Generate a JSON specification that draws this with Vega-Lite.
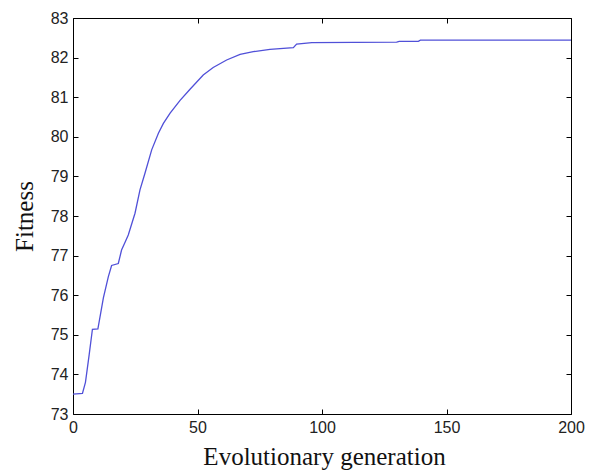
{
  "$schema": "https://vega.github.io/schema/vega-lite/v6.json",
  "width": 498,
  "height": 396,
  "autosize": {"type": "none"},
  "padding": {"left": 73, "top": 18, "right": 21, "bottom": 57},
  "background": "white",
  "config": {"view": {"stroke": null}},
  "data": {
    "values": [
      {"gen": 0, "fitness": 73.5},
      {"gen": 3.8, "fitness": 73.52},
      {"gen": 5, "fitness": 73.8},
      {"gen": 6.5, "fitness": 74.5},
      {"gen": 7.8, "fitness": 75.14},
      {"gen": 10, "fitness": 75.15},
      {"gen": 12.2, "fitness": 75.93},
      {"gen": 14.2, "fitness": 76.47},
      {"gen": 15.5, "fitness": 76.75},
      {"gen": 18.2, "fitness": 76.8},
      {"gen": 19.5, "fitness": 77.14},
      {"gen": 21, "fitness": 77.35},
      {"gen": 22.2, "fitness": 77.52},
      {"gen": 24.9, "fitness": 78.07},
      {"gen": 26.9, "fitness": 78.66},
      {"gen": 28.9, "fitness": 79.08},
      {"gen": 31.6, "fitness": 79.67},
      {"gen": 34.3, "fitness": 80.09},
      {"gen": 36.3, "fitness": 80.34},
      {"gen": 39, "fitness": 80.6},
      {"gen": 43, "fitness": 80.92},
      {"gen": 47, "fitness": 81.2},
      {"gen": 52.3, "fitness": 81.56},
      {"gen": 56.3, "fitness": 81.75},
      {"gen": 61.7, "fitness": 81.94},
      {"gen": 67.1, "fitness": 82.08},
      {"gen": 72.4, "fitness": 82.15},
      {"gen": 79.1, "fitness": 82.21},
      {"gen": 88.5, "fitness": 82.25},
      {"gen": 89.8, "fitness": 82.34},
      {"gen": 95.9, "fitness": 82.38},
      {"gen": 130, "fitness": 82.39},
      {"gen": 131, "fitness": 82.41},
      {"gen": 138.7, "fitness": 82.41},
      {"gen": 139.5, "fitness": 82.44},
      {"gen": 200, "fitness": 82.44}
    ]
  },
  "layer": [
    {
      "mark": {"type": "line", "color": "#5050d8", "strokeWidth": 1.3},
      "encoding": {
        "x": {
          "field": "gen", "type": "quantitative",
          "scale": {"domain": [0, 200], "nice": false, "zero": false},
          "axis": {
            "orient": "bottom", "values": [0, 50, 100, 150, 200], "grid": false,
            "title": "Evolutionary generation",
            "titleFont": "Liberation Serif", "titleFontSize": 25, "titleFontWeight": "normal",
            "titleColor": "#111", "titleX": 251, "titleY": 50, "titleBaseline": "alphabetic", "titleAlign": "center",
            "labelFont": "Liberation Sans", "labelFontSize": 16, "labelColor": "#222",
            "labelPadding": 10, "tickSize": -5, "tickColor": "black",
            "domainColor": "black", "labelFlush": false
          }
        },
        "y": {
          "field": "fitness", "type": "quantitative",
          "scale": {"domain": [73, 83], "nice": false, "zero": false},
          "axis": {
            "orient": "left", "values": [73, 74, 75, 76, 77, 78, 79, 80, 81, 82, 83], "grid": false,
            "title": "Fitness",
            "titleFont": "Liberation Serif", "titleFontSize": 25, "titleFontWeight": "normal",
            "titleColor": "#111", "titleX": -41, "titleY": 198, "titleAngle": -90,
            "titleBaseline": "alphabetic", "titleAlign": "center",
            "labelFont": "Liberation Sans", "labelFontSize": 16, "labelColor": "#222",
            "labelPadding": 10, "tickSize": -5, "tickColor": "black",
            "domainColor": "black", "labelFlush": false
          }
        }
      }
    },
    {
      "mark": {"type": "line", "strokeOpacity": 0},
      "encoding": {
        "x": {
          "field": "gen", "type": "quantitative",
          "scale": {"domain": [0, 200], "nice": false, "zero": false},
          "axis": {"orient": "top", "values": [0, 50, 100, 150, 200], "grid": false, "title": null, "labels": false, "tickSize": -5, "tickColor": "black", "domainColor": "black"}
        },
        "y": {
          "field": "fitness", "type": "quantitative",
          "scale": {"domain": [73, 83], "nice": false, "zero": false},
          "axis": {"orient": "right", "values": [73, 74, 75, 76, 77, 78, 79, 80, 81, 82, 83], "grid": false, "title": null, "labels": false, "tickSize": -5, "tickColor": "black", "domainColor": "black"}
        }
      }
    }
  ],
  "resolve": {"axis": {"x": "independent", "y": "independent"}}
}
